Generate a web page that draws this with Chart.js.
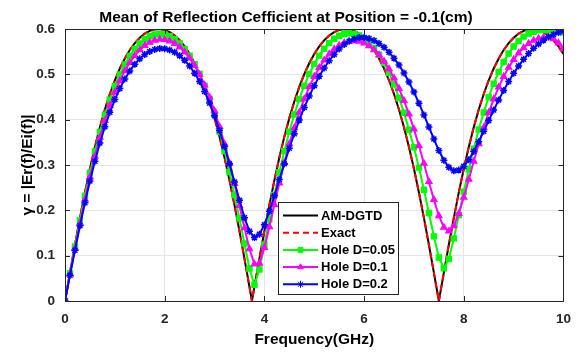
<!DOCTYPE html>
<html>
<head>
<meta charset="utf-8">
<script src="https://cdn.jsdelivr.net/npm/chart.js@4.4.1/dist/chart.umd.min.js"></script>
<style>
  html, body { margin: 0; padding: 0; background: #fff; }
  #wrap { width: 581px; height: 353px; }
</style>
</head>
<body>
<div id="wrap"><canvas id="reflChart" width="581" height="353"></canvas></div>
<script>
// frequency samples (GHz)
const freq = [0,0.1,0.2,0.3,0.4,0.5,0.6,0.7,0.8,0.9,1,1.1,1.2,1.3,1.4,1.5,1.6,1.7,1.8,1.9,
  2,2.1,2.2,2.3,2.4,2.5,2.6,2.7,2.8,2.9,3,3.1,3.2,3.3,3.4,3.5,3.6,3.7,3.8,3.9,
  4,4.1,4.2,4.3,4.4,4.5,4.6,4.7,4.8,4.9,5,5.1,5.2,5.3,5.4,5.5,5.6,5.7,5.8,5.9,
  6,6.1,6.2,6.3,6.4,6.5,6.6,6.7,6.8,6.9,7,7.1,7.2,7.3,7.4,7.5,7.6,7.7,7.8,7.9,
  8,8.1,8.2,8.3,8.4,8.5,8.6,8.7,8.8,8.9,9,9.1,9.2,9.3,9.4,9.5,9.6,9.7,9.8,9.9,10];

// same grid plus the null at 3.75 GHz
const freqExact = [0,0.1,0.2,0.3,0.4,0.5,0.6,0.7,0.8,0.9,1,1.1,1.2,1.3,1.4,1.5,1.6,1.7,1.8,1.9,
  2,2.1,2.2,2.3,2.4,2.5,2.6,2.7,2.8,2.9,3,3.1,3.2,3.3,3.4,3.5,3.6,3.7,3.75,3.8,3.9,
  4,4.1,4.2,4.3,4.4,4.5,4.6,4.7,4.8,4.9,5,5.1,5.2,5.3,5.4,5.5,5.6,5.7,5.8,5.9,
  6,6.1,6.2,6.3,6.4,6.5,6.6,6.7,6.8,6.9,7,7.1,7.2,7.3,7.4,7.5,7.6,7.7,7.8,7.9,
  8,8.1,8.2,8.3,8.4,8.5,8.6,8.7,8.8,8.9,9,9.1,9.2,9.3,9.4,9.5,9.6,9.7,9.8,9.9,10];

const exact = [0,.0626,.1241,.1834,.2395,.2918,.3398,.3834,.4223,.4567,.4869,.5129,.5350,.5536,.5687,.5807,.5897,.5959,.5993,.6000,
  .5979,.5932,.5856,.5751,.5616,.5447,.5244,.5004,.4724,.4401,.4034,.3622,.3164,.2661,.2119,.1541,.0936,.0314,0,.0314,.0936,
  .1541,.2119,.2661,.3164,.3622,.4034,.4401,.4724,.5004,.5244,.5447,.5616,.5751,.5856,.5932,.5979,.6000,.5993,.5959,.5897,
  .5807,.5687,.5536,.5350,.5129,.4869,.4567,.4223,.3834,.3398,.2918,.2395,.1834,.1241,.0626,0,.0626,.1241,.1834,.2395,
  .2918,.3398,.3834,.4223,.4567,.4869,.5129,.5350,.5536,.5687,.5807,.5897,.5959,.5993,.6000,.5979,.5932,.5856,.5751,.5616,.5447];

const amDgtd = [0,.0626,.1241,.1834,.2395,.2918,.3398,.3834,.4223,.4567,.4869,.5129,.5350,.5536,.5687,.5807,.5897,.5959,.5993,.6000,
  .5979,.5932,.5856,.5751,.5616,.5447,.5244,.5004,.4724,.4401,.4034,.3622,.3164,.2661,.2119,.1541,.0936,.0314,0,.0314,.0936,
  .1541,.2119,.2661,.3164,.3622,.4034,.4401,.4724,.5004,.5244,.5447,.5616,.5751,.5856,.5932,.5979,.6000,.5993,.5959,.5897,
  .5807,.5687,.5536,.5350,.5129,.4869,.4567,.4223,.3834,.3398,.2918,.2395,.1834,.1241,.0626,0,.0626,.1241,.1834,.2395,
  .2918,.3398,.3834,.4223,.4567,.4869,.5129,.5350,.5536,.5687,.5807,.5897,.5959,.5993,.6000,.5979,.5932,.5856,.5751,.5616,.5447];

const hole005 = [0,.061,.1201,.1776,.2321,.2831,.3298,.3726,.4107,.4445,.4742,.4998,.5219,.5405,.5558,.5679,.5773,.5839,.5878,.5892,
  .5877,.5841,.5776,.5683,.5562,.5412,.5225,.5007,.4751,.4454,.4118,.3737,.3312,.2846,.2339,.1825,.1268,.0718,.036,.0694,
  .1243,.1801,.2337,.284,.3306,.3734,.4115,.4453,.475,.5008,.5226,.5413,.5566,.5688,.5783,.5851,.589,.5905,.5893,.5856,
  .5792,.5701,.5581,.5432,.5249,.5032,.478,.4485,.4152,.3776,.3393,.2942,.2453,.1942,.1425,.0961,.0723,.0926,.1381,.1895,
  .2409,.2904,.3361,.3783,.416,.4497,.4794,.5053,.5272,.5459,.5614,.5737,.5832,.590,.594,.597,.598,.598,.597,.595,.592];

const hole01 = [0,.0586,.1161,.1717,.2244,.2739,.3192,.3611,.3981,.4312,.4604,.4857,.5076,.526,.5414,.5538,.5635,.5705,.5749,.577,
  .5764,.5735,.568,.56,.5493,.5357,.5192,.4995,.4764,.4496,.4194,.3845,.3462,.3042,.2587,.2102,.1611,.1148,.0815,.0833,
  .1177,.1638,.2124,.2603,.3054,.3469,.3818,.4161,.4457,.4722,.4952,.5147,.5312,.5448,.5557,.5638,.5696,.573,.574,.5726,
  .5689,.5628,.5541,.5428,.5288,.5119,.4918,.4688,.4421,.4123,.3791,.3424,.3035,.2632,.2235,.188,.1624,.154,.1656,.1928,
  .2287,.2682,.3082,.3465,.3827,.4157,.4453,.4719,.4949,.5152,.5324,.5468,.5585,.5678,.5747,.5792,.5816,.582,.578,.569,.557];

const hole02 = [0,.0566,.1121,.1659,.2168,.2645,.3083,.3485,.3843,.4162,.4444,.4687,.4898,.5076,.5224,.5343,.5436,.5506,.5549,.5569,
  .5566,.5539,.5487,.5412,.5313,.5183,.5026,.484,.4622,.4368,.4085,.376,.3407,.3025,.2626,.222,.1839,.1539,.1398,.1471,
  .168,.198,.232,.268,.303,.337,.369,.399,.427,.452,.475,.496,.514,.530,.544,.556,.566,.573,.578,.581,
  .5815,.5793,.5746,.5681,.5595,.5487,.5357,.5205,.5029,.4829,.4608,.4364,.4104,.3839,.3572,.3319,.3105,.2948,.2871,.2887,
  .2973,.3116,.33,.3515,.3744,.398,.4212,.4436,.4645,.4843,.5022,.5186,.5331,.5461,.5573,.5671,.5754,.5823,.5879,.5921,.5949];

const xTicks = [0, 2, 4, 6, 8, 10];
const yTicks = [0, 0.1, 0.2, 0.3, 0.4, 0.5, 0.6];

const FONT = '"Liberation Sans", Arial, sans-serif';
const INK = '#262626';

function pts(xs, ys) {
  return ys.map((y, i) => ({ x: xs[i], y: y }));
}

// axes box, inward ticks, title and the boxed legend
const framePlugin = {
  id: 'frame',
  afterDraw(chart) {
    const ctx = chart.ctx;
    const a = chart.chartArea;
    const xs = chart.scales.x, ys = chart.scales.y;
    ctx.save();

    ctx.strokeStyle = INK;
    ctx.lineWidth = 1;
    ctx.beginPath();
    xTicks.forEach(v => {
      const px = Math.round(xs.getPixelForValue(v)) + 0.5;
      ctx.moveTo(px, a.bottom); ctx.lineTo(px, a.bottom - 5);
      ctx.moveTo(px, a.top); ctx.lineTo(px, a.top + 5);
    });
    yTicks.forEach(v => {
      const py = Math.round(ys.getPixelForValue(v)) + 0.5;
      ctx.moveTo(a.left, py); ctx.lineTo(a.left + 5, py);
      ctx.moveTo(a.right, py); ctx.lineTo(a.right - 5, py);
    });
    ctx.stroke();
    ctx.strokeRect(Math.round(a.left) + 0.5, Math.round(a.top) + 0.5,
      Math.round(a.right - a.left), Math.round(a.bottom - a.top));

    ctx.fillStyle = '#000';
    ctx.font = 'bold 15.5px ' + FONT;
    ctx.textAlign = 'center';
    ctx.textBaseline = 'alphabetic';
    ctx.fillText('Mean of Reflection Cefficient at Position = -0.1(cm)', 286, 22);

    // legend
    const lx = 278, ly = 202, lw = 120, lh = 92;
    ctx.fillStyle = '#fff';
    ctx.fillRect(lx, ly, lw, lh);
    ctx.strokeStyle = INK;
    ctx.lineWidth = 1;
    ctx.strokeRect(lx + 0.5, ly + 0.5, lw, lh);
    ctx.font = 'bold 13px ' + FONT;
    ctx.textAlign = 'left';
    ctx.textBaseline = 'middle';
    chart.data.datasets.forEach((ds, row) => {
      const y = ly + 13.5 + row * 17.2;
      ctx.save();
      ctx.strokeStyle = ds.borderColor;
      ctx.lineWidth = ds.borderWidth;
      ctx.setLineDash(ds.borderDash || []);
      ctx.beginPath();
      ctx.moveTo(lx + 5, y); ctx.lineTo(lx + 40, y);
      ctx.stroke();
      ctx.restore();
      if (ds.pointRadius > 0) {
        ctx.fillStyle = ds.pointBackgroundColor;
        ctx.strokeStyle = ds.pointBorderColor;
        Chart.helpers.drawPoint(ctx, {
          pointStyle: ds.pointStyle, radius: ds.pointRadius,
          rotation: 0, borderWidth: ds.pointBorderWidth
        }, lx + 22.5, y);
      }
      ctx.fillStyle = '#000';
      ctx.fillText(ds.label, lx + 43, y + 0.5);
    });
    ctx.restore();
  }
};

const holeStyle = (color, style, r) => ({
  borderColor: color, backgroundColor: color, borderWidth: 2,
  pointStyle: style, pointRadius: r, pointBackgroundColor: color,
  pointBorderColor: color, pointBorderWidth: 1.5
});

new Chart(document.getElementById('reflChart'), {
  type: 'line',
  data: {
    datasets: [
      { label: 'AM-DGTD', data: pts(freqExact, amDgtd), borderColor: '#000000', borderWidth: 2,
        pointRadius: 0, order: 5 },
      { label: 'Exact', data: pts(freqExact, exact), borderColor: '#ff0000', borderWidth: 2,
        borderDash: [6, 4], pointRadius: 0, order: 4 },
      Object.assign({ label: 'Hole D=0.05', data: pts(freq, hole005), order: 3 }, holeStyle('#00ff00', 'rect', 3.5)),
      Object.assign({ label: 'Hole D=0.1', data: pts(freq, hole01), order: 2 }, holeStyle('#ff00ff', 'triangle', 3.3)),
      Object.assign({ label: 'Hole D=0.2', data: pts(freq, hole02), order: 1 }, holeStyle('#0000ff', 'star', 3.5))
    ]
  },
  options: {
    responsive: false,
    animation: false,
    devicePixelRatio: 1,
    layout: { padding: { top: 29, right: 9, left: 0, bottom: 0 } },
    elements: { line: { tension: 0, fill: false } },
    plugins: { legend: { display: false }, tooltip: { enabled: false } },
    scales: {
      x: {
        type: 'linear', min: 0, max: 10,
        afterBuildTicks: s => { s.ticks = xTicks.map(v => ({ value: v })); },
        afterFit: s => { s.height = 52; },
        grid: { color: '#e6e6e6', drawTicks: false },
        border: { display: false },
        ticks: { color: INK, padding: 10, font: { family: FONT, size: 13.5, weight: 'bold' },
          maxRotation: 0, callback: v => String(v) },
        title: { display: true, text: 'Frequency(GHz)', color: '#000',
          font: { family: FONT, size: 15.5, weight: 'bold' }, padding: { top: 0, bottom: 4 } }
      },
      y: {
        type: 'linear', min: 0, max: 0.6,
        afterBuildTicks: s => { s.ticks = yTicks.map(v => ({ value: v })); },
        afterFit: s => { s.width = 65; },
        grid: { color: '#e6e6e6', drawTicks: false },
        border: { display: false },
        ticks: { color: INK, padding: 10, font: { family: FONT, size: 13.5, weight: 'bold' },
          callback: v => String(v) },
        title: { display: true, text: 'γ = |Er(f)/Ei(f)|', color: '#000',
          font: { family: FONT, size: 15.5, weight: 'bold' }, padding: { top: 18, bottom: 0 } }
      }
    }
  },
  plugins: [framePlugin]
});
</script>
</body>
</html>
